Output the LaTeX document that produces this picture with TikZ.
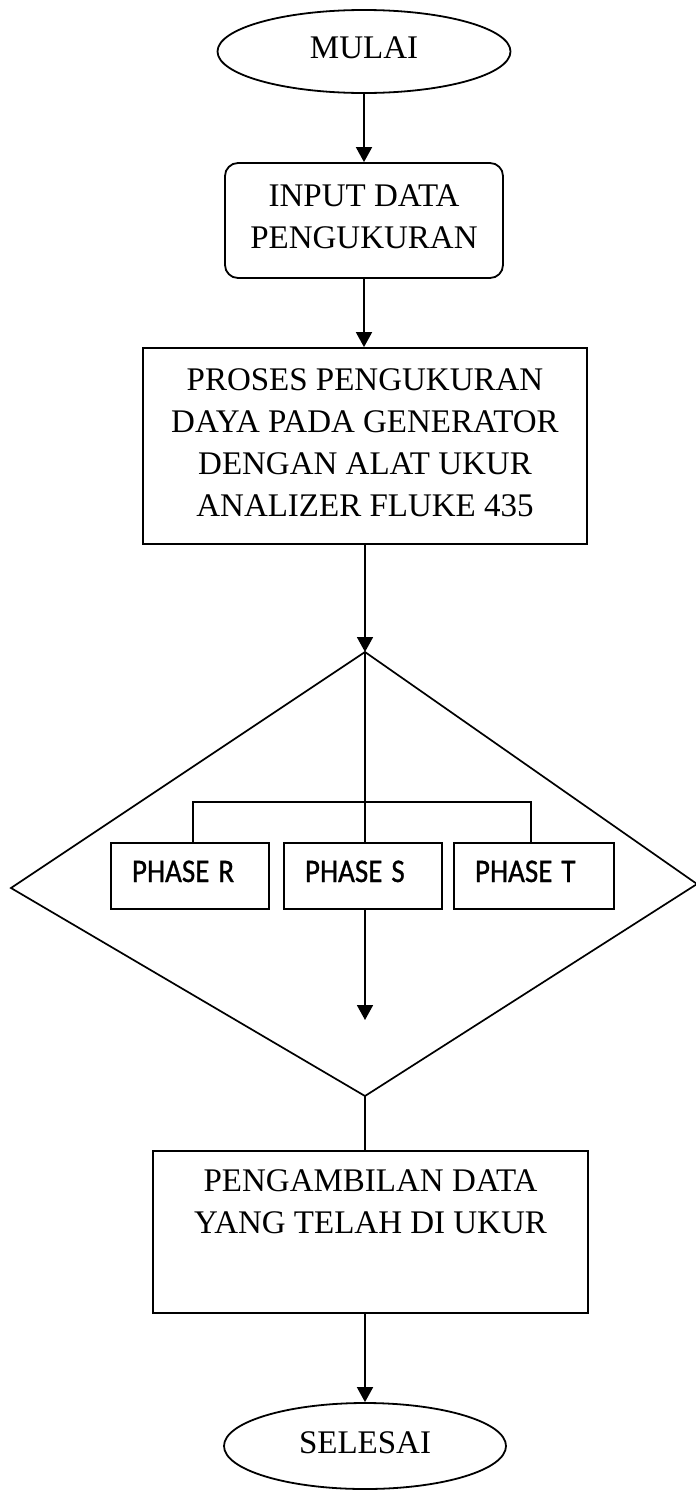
\documentclass[tikz,border=0pt]{standalone}
\usepackage{fontspec}
\setmainfont{Liberation Serif}
\newfontfamily\phasefont[FakeStretch=0.88,FakeBold=0.9]{Carlito}
\usetikzlibrary{shapes.geometric,arrows.meta}
\newcommand{\phsp}{\hspace{9pt}}
\tikzset{
  base/.style={draw, line width=1.8pt, font=\fontsize{33}{42}\selectfont, align=center, inner sep=0pt, text depth=7pt},
  term/.style={base, ellipse},
  roundbox/.style={base, rounded corners=13pt},
  procbox/.style={base},
  phasebox/.style={draw, line width=1.6pt, font=\phasefont\fontsize{33}{40}\selectfont, inner ysep=0pt, inner xsep=21pt, text width=116pt, align=left, minimum height=66pt, text height=21.7pt, text depth=9.7pt},
  conn/.style={line width=1.8pt},
  thinconn/.style={line width=1.6pt},
  arr/.style={conn, -{Triangle[length=15pt,width=16pt]}},
  diam/.style={line width=1.7pt, line join=miter}
}
\begin{document}
\begin{tikzpicture}[x=1pt,y=-1pt]
\useasboundingbox (0,0) rectangle (696,1494);
\node[term, minimum width=293pt, minimum height=83pt] (mulai) at (364,51.5) {MULAI};
\node[roundbox, minimum width=278pt, minimum height=115pt] (input) at (364,220.5) {INPUT DATA\\PENGUKURAN};
\node[procbox, minimum width=444pt, minimum height=196pt] (proses) at (365,446) {PROSES PENGUKURAN\\DAYA PADA GENERATOR\\DENGAN ALAT UKUR\\ANALIZER FLUKE 435};
\coordinate (dtop) at (365,652);
\coordinate (dleft) at (11,888);
\coordinate (dbot) at (365,1096);
\coordinate (dright) at (697,884);
\draw[diam] (dtop) -- (dright) -- (dbot) -- (dleft) -- cycle;
\node[phasebox] (phR) at (190,876) {PHASE\phsp R};
\node[phasebox] (phS) at (363,876) {PHASE\phsp S};
\node[phasebox, text width=118pt] (phT) at (534,876) {PHASE\phsp T};
\coordinate (split) at (365,802);
\coordinate (sink) at (365,1020);
\node[procbox, minimum width=435pt, minimum height=162pt, text depth=61pt] (ambil) at (370.5,1232) {PENGAMBILAN DATA\\YANG TELAH DI UKUR};
\node[term, minimum width=282pt, minimum height=86pt] (selesai) at (365,1446) {SELESAI};
\draw[arr] (mulai.south -| input.north) -- (input.north);
\draw[arr] (input.south) -- (input.south |- proses.north);
\draw[arr] (proses.south -| dtop) -- (dtop);
\draw[conn] (dtop) -- (dtop |- phS.north);
\draw[thinconn] ([xshift=3pt]phR.north) |- (split) -| ([xshift=-3pt]phT.north);
\draw[arr] (phS.south -| sink) -- (sink);
\draw[conn] (dbot) -- (dbot |- ambil.north);
\draw[arr] (ambil.south -| selesai.north) -- (selesai.north);
\end{tikzpicture}
\end{document}
